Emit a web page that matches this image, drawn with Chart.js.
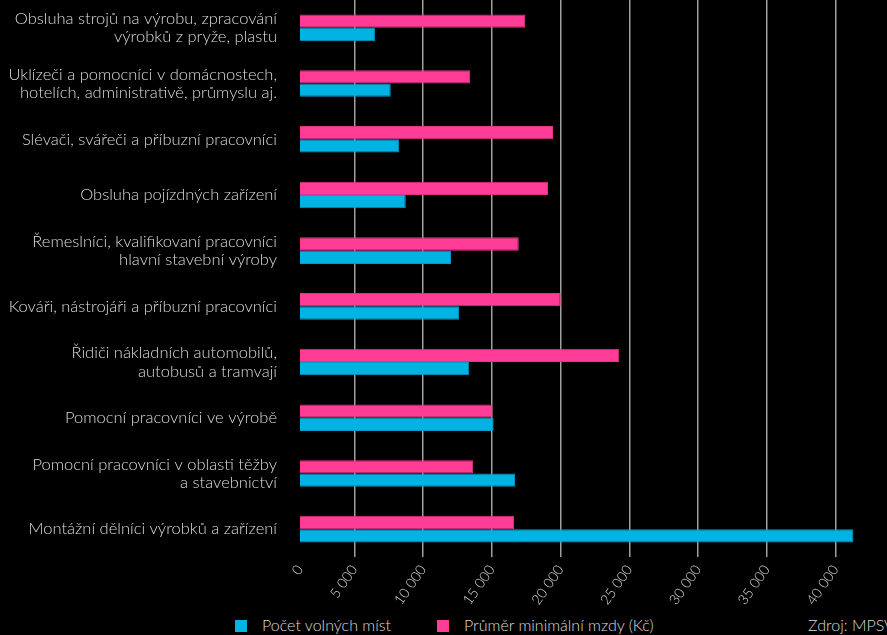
<!DOCTYPE html>
<html lang="cs">
<head>
<meta charset="utf-8">
<title>Volná místa a minimální mzdy</title>
<script src="https://cdn.jsdelivr.net/npm/chart.js@4.4.1/dist/chart.umd.min.js"></script>
<style>
  html, body { margin: 0; padding: 0; background: #000; width: 887px; height: 635px; overflow: hidden; }
  #wrap { position: absolute; left: 0; top: 0; width: 887px; height: 615px; }
  .lg { position: absolute; font-family: Lato, "Open Sans", sans-serif; font-weight: 300; font-size: 16px; color: #dcdcdc; white-space: nowrap; line-height: 16px; }
  .box { position: absolute; width: 12px; height: 12px; }
</style>
</head>
<body>
<div id="wrap"><canvas id="c"></canvas></div>
<div class="box" style="left:235px; top:620px; background:#00B3E3;"></div>
<div class="lg" style="left:262px; top:617px;">Počet volných míst</div>
<div class="box" style="left:437px; top:620px; background:#FF3D97;"></div>
<div class="lg" style="left:464px; top:617px;">Průměr minimální mzdy (Kč)</div>
<div class="lg" style="left:808px; top:617px;">Zdroj: MPSV</div>
<script>
const categories = [
  ["Obsluha strojů na výrobu, zpracování", "výrobků z pryže, plastu"],
  ["Uklízeči a pomocníci v domácnostech,", "hotelích, administrativě, průmyslu aj."],
  "Slévači, svářeči a příbuzní pracovníci",
  "Obsluha pojízdných zařízení",
  ["Řemeslníci, kvalifikovaní pracovníci", "hlavní stavební výroby"],
  "Kováři, nástrojáři a příbuzní pracovníci",
  ["Řidiči nákladních automobilů,", "autobusů a tramvají"],
  "Pomocní pracovníci ve výrobě",
  ["Pomocní pracovníci v oblasti těžby", "a stavebnictví"],
  "Montážní dělníci výrobků a zařízení"
];
const wageLabel = "Průměr minimální mzdy (Kč)";
const vacancyLabel = "Počet volných míst";
const avgMinWage = [17420, 13420, 19450, 19090, 16960, 20010, 24270, 15050, 13640, 16620];
const vacancies  = [6500, 7650, 8270, 8740, 12030, 12620, 13360, 15130, 16690, 41300];
const tickValues = [5000, 10000, 15000, 20000, 25000, 30000, 35000, 40000];
const axisMin = 1050;   // reference axis starts a little right of true zero
const axisMax = 43740;

const fmt = v => String(v).replace(/\B(?=(\d{3})+(?!\d))/g, " ");

function build() {
  const font = { family: "Lato, 'Open Sans', sans-serif", weight: 300 };
  new Chart(document.getElementById("c"), {
    type: "bar",
    data: {
      labels: categories,
      datasets: [
        { label: wageLabel, data: avgMinWage, backgroundColor: "#FF3D97", borderColor: "#E0338A", borderWidth: 1 },
        { label: vacancyLabel, data: vacancies, backgroundColor: "#00B3E3", borderColor: "#009DCB", borderWidth: 1 }
      ]
    },
    options: {
      indexAxis: "y",
      responsive: true,
      maintainAspectRatio: false,
      animation: false,
      layout: { padding: 0 },
      datasets: { bar: { categoryPercentage: 0.478, barPercentage: 1.0 } },
      plugins: { legend: { display: false }, tooltip: { enabled: false } },
      scales: {
        x: {
          type: "linear",
          min: axisMin,
          max: axisMax,
          afterBuildTicks: s => { s.ticks = [axisMin].concat(tickValues).map(v => ({ value: v })); },
          afterFit: s => { s.height = 58; s.paddingLeft = 0; s.paddingRight = 0; },
          border: { display: false },
          grid: {
            color: c => (c.index === 0 ? "rgba(0,0,0,0)" : "#a0a0a0"),
            lineWidth: 1.5,
            drawTicks: false
          },
          ticks: {
            color: "#dcdcdc",
            font: Object.assign({ size: 14 }, font),
            minRotation: 55,
            maxRotation: 55,
            padding: 5,
            autoSkip: false,
            callback: v => (v === axisMin ? "0" : fmt(v))
          }
        },
        y: {
          afterFit: s => { s.width = 300; s.paddingTop = 0; s.paddingBottom = 0; },
          border: { display: false },
          grid: { display: false, drawTicks: false },
          ticks: {
            color: "#dcdcdc",
            font: Object.assign({ size: 16.5, lineHeight: 1.12 }, font),
            padding: 23,
            autoSkip: false
          }
        }
      }
    }
  });
}
if (document.fonts && document.fonts.load) {
  document.fonts.load("300 16px Lato").then(build, build);
} else { build(); }
</script>
</body>
</html>
